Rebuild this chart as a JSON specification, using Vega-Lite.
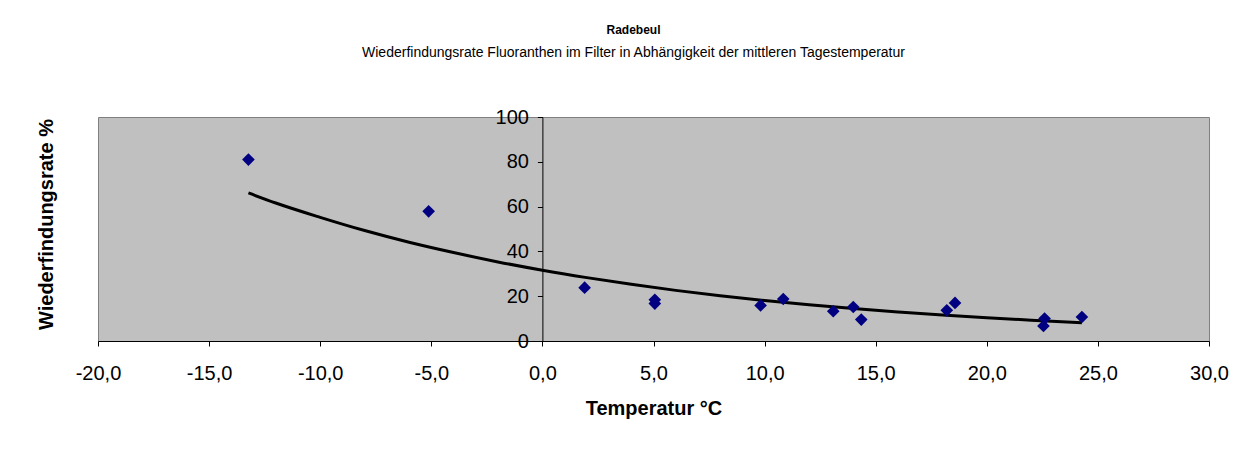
{
  "$schema": "https://vega.github.io/schema/vega-lite/v6.json",
  "autosize": "none",
  "padding": {"left": 98, "top": 117, "right": 48, "bottom": 111},
  "width": 1111,
  "height": 224,
  "background": "white",
  "title": {
    "text": "Radebeul",
    "subtitle": "Wiederfindungsrate Fluoranthen im Filter in Abhängigkeit der mittleren Tagestemperatur",
    "anchor": "middle",
    "frame": "group",
    "dx": -20,
    "offset": 46,
    "font": "Liberation Sans",
    "fontSize": 12,
    "fontWeight": "bold",
    "color": "black",
    "subtitleFont": "Liberation Sans",
    "subtitleFontSize": 14,
    "subtitleColor": "black",
    "subtitlePadding": 9
  },
  "datasets": {
    "points": [
      {"temp": -13.23, "rate": 81.0},
      {"temp": -5.12, "rate": 57.9},
      {"temp": 1.9, "rate": 23.8},
      {"temp": 5.06, "rate": 18.4},
      {"temp": 5.06, "rate": 16.7},
      {"temp": 9.82, "rate": 15.9},
      {"temp": 10.84, "rate": 18.75},
      {"temp": 13.09, "rate": 13.3},
      {"temp": 13.99, "rate": 15.2},
      {"temp": 14.35, "rate": 9.55},
      {"temp": 18.2, "rate": 13.7},
      {"temp": 18.57, "rate": 17.0},
      {"temp": 22.6, "rate": 10.0},
      {"temp": 22.55, "rate": 6.7},
      {"temp": 24.28, "rate": 10.7}
    ],
    "trend": [
      {"temp": -13.23, "rate": 66.1},
      {"temp": -12, "rate": 61.6},
      {"temp": -10, "rate": 55.2},
      {"temp": -8, "rate": 49.3},
      {"temp": -6, "rate": 44.1},
      {"temp": -4, "rate": 39.5},
      {"temp": -2, "rate": 35.3},
      {"temp": 0, "rate": 31.6},
      {"temp": 2, "rate": 28.3},
      {"temp": 4, "rate": 25.3},
      {"temp": 6, "rate": 22.6},
      {"temp": 8, "rate": 20.2},
      {"temp": 10, "rate": 18.1},
      {"temp": 12, "rate": 16.2},
      {"temp": 14, "rate": 14.5},
      {"temp": 16, "rate": 13.0},
      {"temp": 18, "rate": 11.6},
      {"temp": 20, "rate": 10.4},
      {"temp": 22, "rate": 9.3},
      {"temp": 24.28, "rate": 8.2}
    ]
  },
  "encoding": {
    "x": {
      "field": "temp",
      "type": "quantitative",
      "scale": {"domain": [-20, 30], "nice": false, "zero": false},
      "axis": {
        "title": "Temperatur °C",
        "values": [-20, -15, -10, -5, 0, 5, 10, 15, 20, 25, 30],
        "format": ".1f",
        "grid": false,
        "domainColor": "black",
        "tickColor": "black",
        "tickSize": 5,
        "labelPadding": 17,
        "labelFont": "Liberation Sans",
        "labelFontSize": 20,
        "labelColor": "black",
        "labelFlush": false,
        "titleFont": "Liberation Sans",
        "titleFontSize": 20,
        "titleFontWeight": "bold",
        "titleColor": "black",
        "titlePadding": 15
      }
    },
    "y": {
      "field": "rate",
      "type": "quantitative",
      "scale": {"domain": [0, 100], "nice": false},
      "axis": {
        "title": "Wiederfindungsrate %",
        "values": [0, 20, 40, 60, 80, 100],
        "format": "d",
        "offset": -444.4,
        "grid": false,
        "domainColor": "black",
        "tickColor": "black",
        "tickSize": 5,
        "labelPadding": 9,
        "labelFont": "Liberation Sans",
        "labelFontSize": 20,
        "labelColor": "black",
        "labelFlush": false,
        "titleFont": "Liberation Sans",
        "titleFontSize": 20,
        "titleFontWeight": "bold",
        "titleColor": "black",
        "titleX": -486,
        "titleY": 107
      }
    }
  },
  "layer": [
    {
      "data": {"name": "trend"},
      "mark": {"type": "line", "color": "black", "strokeWidth": 3, "interpolate": "monotone"}
    },
    {
      "data": {"name": "points"},
      "mark": {"type": "point", "shape": "diamond", "filled": true, "color": "#000080", "opacity": 1, "size": 160}
    }
  ],
  "config": {
    "view": {"fill": "#C0C0C0", "stroke": "#808080", "strokeWidth": 1},
    "locale": {
      "number": {"decimal": ",", "thousands": ".", "grouping": [3], "currency": ["", " €"], "minus": "-"}
    }
  }
}
